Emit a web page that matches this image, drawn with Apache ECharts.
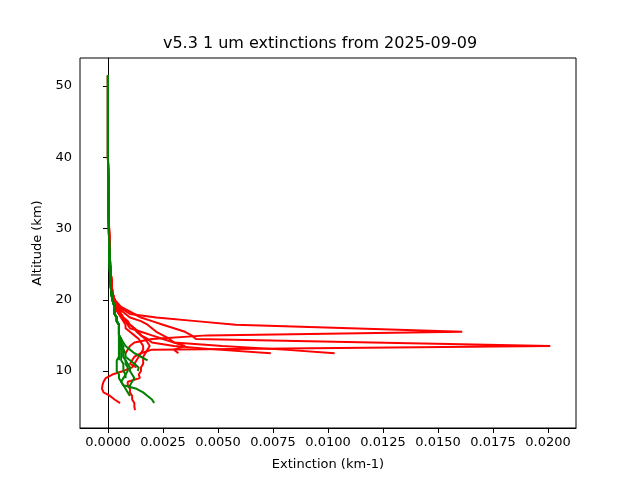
<!DOCTYPE html>
<html><head><meta charset="utf-8">
<script src="https://cdn.jsdelivr.net/npm/echarts@6/dist/echarts.min.js"></script>
<style>html,body{margin:0;padding:0;background:#fff}#c{width:640px;height:480px}</style>
</head><body><div id="c"></div>
<script>
const altitudes = [51.5,45,40,35,30,27,25,23,21,20,19,18,17.5,17,16.5,16,15.5,15,14.5,14,13.5,13,12.5,12,11.5,11,10.5,10,9.5,9,8.5,8,7.5,7,6.5,6,5.5,5,4.5];
const upper = [0,0,0,0.00003,0.00005,0.00008,0.0001,0.00015,0.0002,0.0003];
const red1 = upper.concat([0.0005,0.001,0.0022,0.004,0.0058,0.011,0.0161,0.0045,0.002,0.0012,0.001,0.0009,0.0008]);
const red2 = upper.concat([0.0006,0.0012,0.0015,0.002,0.0025,0.003,0.0035,0.0038,0.004,0.012,0.0201,0.002,0.0015,0.0012,0.0011,0.001,0.0013]);
const red3 = upper.concat([0.0004,0.0008,0.001,0.0015,0.0018,0.002,0.0022,0.0025,0.0028,0.003,0.0052,0.008,0.0103]);
const red4 = upper.concat([0.0004,0.0006,0.0007,0.0008,0.001,0.0012,0.0013,0.0015,0.0018,0.002,0.003,0.005,0.0074]);
const red5 = upper.concat([0.0003,0.0005,0.0006,0.0008,0.0009,0.001,0.0015,0.002,0.0025,0.003,0.0035,0.003,0.0032]);
const red6 = upper.concat([0.0003,0.0005,0.0006,0.0007,0.0008,0.0008,0.001,0.0012,0.0014,0.0015,0.0016,0.0016,0.0015,0.0014,0.0013,0.0012,0.0011,0.0007,0.0002,-0.0001,-0.0002,-0.00025,-0.00027,-0.0002,0.0001,0.0003,0.00055]);
const red7 = upper.concat([0.0004,0.0006,0.0007,0.0009,0.001,0.0012,0.0014,0.0015,0.0017,0.0018,0.0019,0.0018,0.0017,0.0016,0.0016,0.0016,0.0015,0.0015,0.0014,0.00145,0.0009,0.0009,0.001,0.001,0.0011,0.0011,0.0012,0.0012,0.00123]);
const greenUpper = [0,0,0,0.00002,0.00004,0.00006,0.00008,0.0001,0.00015,0.0002,0.0003,0.0003,0.0004,0.0004,0.0005,0.0005,0.0005,0.0005];
const green1 = greenUpper.concat([0.0006,0.0006,0.0006,0.0007,0.0007,0.0007,0.0008,0.0008,0.0009,0.0009,0.0008,0.0007,0.0006,0.0007,0.0013,0.0016,0.0018,0.002,0.0021]);
const green2 = greenUpper.concat([0.0006,0.0006,0.0005,0.0005,0.0005,0.0005,0.0004,0.0004,0.0004,0.0004,0.0005,0.0005,0.0006,0.0007,0.0008,0.0009,0.001]);
const green3 = greenUpper.concat([0.0006,0.0006,0.0007,0.0007,0.0008,0.0008,0.001,0.0012,0.0014,0.00136]);
const green4 = greenUpper.concat([0.0006,0.0007,0.0008,0.001,0.0012,0.0015,0.0018]);
const green5 = greenUpper.concat([0.0005,0.0005,0.0005,0.0006,0.0006,0.0006,0.0006,0.0007,0.0007,0.0007,0.0008,0.0008]);
const green6 = greenUpper.concat([0.0006,0.0006,0.0006,0.0007,0.0007,0.0007,0.0008,0.0009,0.001,0.001,0.0011,0.0012,0.0011,0.001,0.001]);
const green7 = greenUpper.concat([0.0005,0.0005,0.0005,0.0005,0.0005,0.0005,0.0005]);
const redProfiles = [red1,red2,red3,red4,red5,red6,red7];
const greenProfiles = [green1,green2,green3,green4,green5,green6,green7];
const xTicks = [0,0.0025,0.005,0.0075,0.01,0.0125,0.015,0.0175,0.02];
const yTicks = [10,20,30,40,50];

function mk(vals, color){
  return {type:'line', showSymbol:false, symbol:'none', animation:false,
    lineStyle:{color:color,width:2}, itemStyle:{color:color},
    data: vals.map((v,i)=>[v, altitudes[i]])};
}
const series = redProfiles.map(p=>mk(p,'#ff0000')).concat(greenProfiles.map(p=>mk(p,'#008000')));
const font = 'DejaVu Sans';
const chart = echarts.init(document.getElementById('c'));
chart.setOption({
  animation:false,
  title:{text:'v5.3 1 um extinctions from 2025-09-09', left:'center', top:31,
    textStyle:{fontFamily:font,fontSize:16,fontWeight:'normal',color:'#000'}},
  grid:{left:80,right:64,top:58,bottom:52,show:true,borderColor:'#000',borderWidth:1},
  xAxis:{type:'value',min:-0.00127,max:0.02127,
    name:'Extinction (km-1)',nameLocation:'middle',nameGap:30,
    nameTextStyle:{fontFamily:font,fontSize:13,color:'#000'},
    axisLine:{show:true,lineStyle:{color:'#000'}},
    axisTick:{show:true,customValues:xTicks,length:5,lineStyle:{color:'#000'}},
    axisLabel:{customValues:xTicks,fontFamily:font,fontSize:13,color:'#000',margin:8,formatter:v=>v.toFixed(4)},
    splitLine:{show:false}},
  yAxis:{type:'value',min:2,max:53.93,
    name:'Altitude (km)',nameLocation:'middle',nameGap:35,
    nameTextStyle:{fontFamily:font,fontSize:13,color:'#000'},
    axisLine:{show:true,lineStyle:{color:'#000'}},
    axisTick:{show:true,customValues:yTicks,length:5,lineStyle:{color:'#000'}},
    axisLabel:{customValues:yTicks,fontFamily:font,fontSize:13,color:'#000',margin:8},
    splitLine:{show:false}},
  series:series
});
</script></body></html>
